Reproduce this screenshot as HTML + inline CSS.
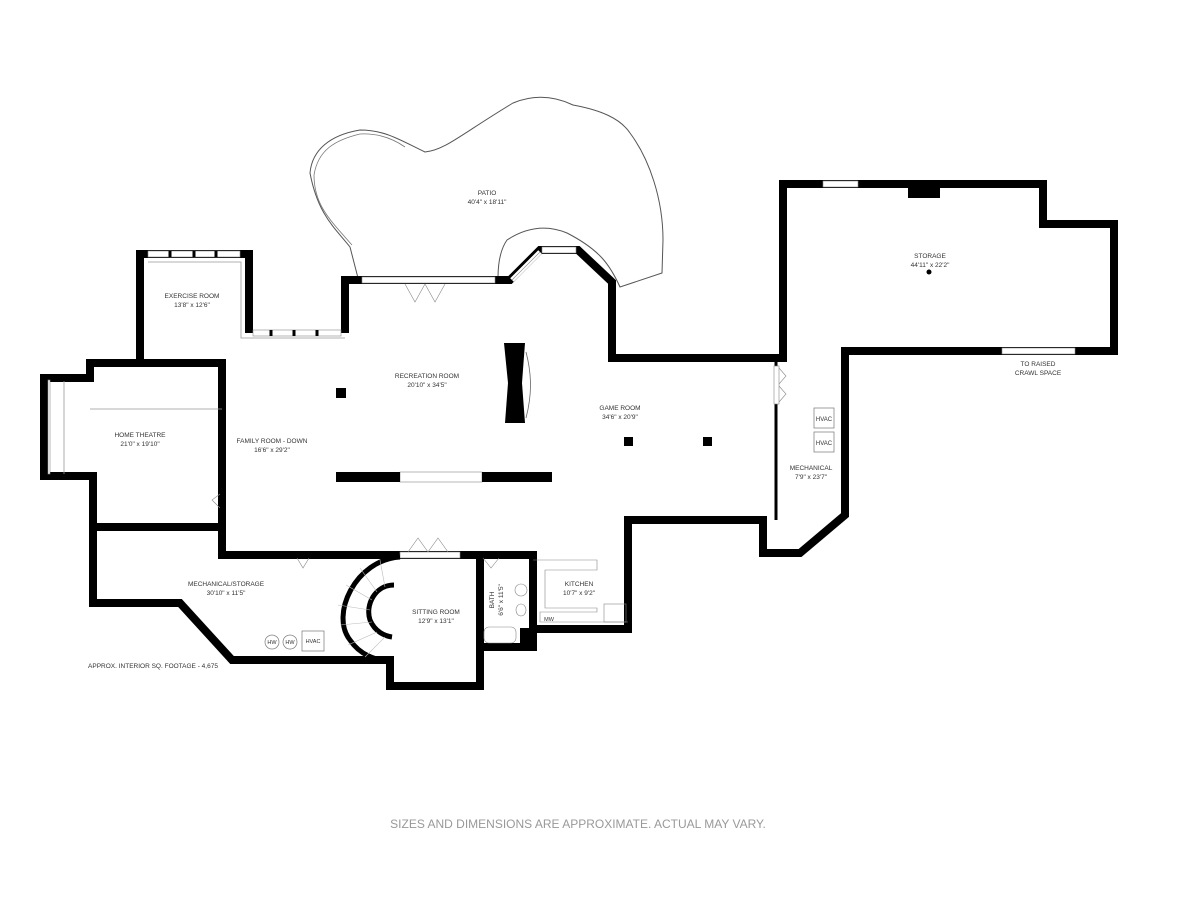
<!DOCTYPE html>
<html><head><meta charset="utf-8"><style>
html,body{margin:0;padding:0;background:#fff;width:1200px;height:900px;overflow:hidden}
svg{display:block}
text{font-family:"Liberation Sans",sans-serif;fill:#333;font-size:6.5px;text-anchor:middle}
</style></head><body>
<svg width="1200" height="900" viewBox="0 0 1200 900" xmlns="http://www.w3.org/2000/svg">
<!-- patio -->
<path d="M358,278 L350,247 C335,228 318,215 310,173 C312,150 330,135 360,130 C385,130 400,140 425,152 C445,150 460,135 513,103 C530,96 550,94 573,105 C600,110 620,118 630,133 C650,160 663,200 663,240 L662,273 L620,287 C610,265 600,250 567,233 C550,226 530,225 507,240 C500,250 498,265 498,278" fill="none" stroke="#555" stroke-width="1"/>
<path d="M352,245 C330,220 314,205 314,175 C318,150 335,140 360,134 C380,133 395,140 405,147" fill="none" stroke="#777" stroke-width="0.8"/>

<g fill="none" stroke="#000" stroke-width="8" stroke-linejoin="miter">
<polyline points="140,362 140,254 249,254 249,333"/>
<polyline points="345,333 345,280 510,280 540,250 578,250 612,282 612,358 783,358 783,184 1043,184 1043,224 1114,224 1114,351 845,351 845,515 800,553 763,553 763,520 628,520 628,629 533,629 533,647 480,647 480,686 390,686 390,660 232,660 180,603 93,603 93,527"/>
<polyline points="93,527 93,476 44,476 44,378 90,378 90,363 140,363"/>
<polyline points="140,363 222,363 222,555 533,555 533,629"/>
<polyline points="93,527 222,527"/>
<polyline points="480,555 480,647"/>
</g>
<line x1="776" y1="358" x2="776" y2="520" stroke="#000" stroke-width="3"/>
<rect x="774" y="366" width="5" height="38" fill="#fff" stroke="#888" stroke-width="0.6"/>
<path d="M779,368 l7,8 l-7,8 M779,386 l7,8 l-7,8" fill="none" stroke="#888" stroke-width="0.6"/>
<path d="M148,262 L241,262 L241,338 L345,338" fill="none" stroke="#999" stroke-width="0.8"/>
<g fill="#fff" stroke="#888" stroke-width="0.6">
<rect x="148" y="251" width="92" height="6"/>
<rect x="253" y="330" width="88" height="6"/>
<rect x="362" y="277" width="133" height="6"/>
<rect x="542" y="247" width="34" height="6"/>
<rect x="823" y="181" width="35" height="6"/>
<rect x="1002" y="348" width="73" height="6"/>
<rect x="400" y="552" width="60" height="6"/>
<rect x="400" y="472" width="82" height="10"/>
<rect x="48" y="380" width="2" height="94"/>
</g>
<g stroke="#000" stroke-width="3">
<line x1="170" y1="251" x2="170" y2="257"/><line x1="194" y1="251" x2="194" y2="257"/><line x1="216" y1="251" x2="216" y2="257"/>
<line x1="271" y1="330" x2="271" y2="336"/><line x1="294" y1="330" x2="294" y2="336"/><line x1="317" y1="330" x2="317" y2="336"/>
</g>
<path d="M512,280 L540,252" stroke="#fff" stroke-width="5"/>
<path d="M512,280 L540,252" stroke="#888" stroke-width="0.6"/>
<path d="M405,284 l10,18 l10,-18 M425,284 l10,18 l10,-18" fill="none" stroke="#888" stroke-width="0.6"/>
<path d="M408,552 l10,-14 l10,14 M428,552 l10,-14 l10,14" fill="none" stroke="#888" stroke-width="0.6"/>
<path d="M297,558 l6,10 l6,-10" fill="none" stroke="#888" stroke-width="0.6"/>
<path d="M220,494 l-8,6 l8,8" fill="none" stroke="#888" stroke-width="0.6"/>
<path d="M90,409 L222,409 M64,381 L64,474" fill="none" stroke="#999" stroke-width="0.8"/>
<rect x="336" y="388" width="10" height="10" fill="#000"/>
<rect x="624" y="437" width="9" height="9" fill="#000"/>
<rect x="703" y="437" width="9" height="9" fill="#000"/>
<path d="M504,343 L525,343 L522,383 L525,423 L505,423 L508,383 Z" fill="#000"/>
<path d="M526,352 C532,375 532,395 526,418" fill="none" stroke="#666" stroke-width="0.8"/>
<rect x="336" y="472" width="64" height="10" fill="#000"/>
<rect x="482" y="472" width="70" height="10" fill="#000"/>
<rect x="908" y="184" width="32" height="14" fill="#000"/>
<circle cx="929" cy="272" r="2.5" fill="#000"/>
<path d="M400,557 C355,560 330,615 350,640 C360,655 375,660 392,662" fill="none" stroke="#000" stroke-width="5"/>
<path d="M394,585 C375,585 365,605 370,620 C375,632 385,636 392,637" fill="none" stroke="#000" stroke-width="5"/>
<g stroke="#bbb" stroke-width="0.6">
<line x1="380" y1="560" x2="385" y2="587"/><line x1="360" y1="568" x2="377" y2="592"/><line x1="346" y1="585" x2="372" y2="600"/><line x1="338" y1="605" x2="370" y2="610"/><line x1="340" y1="625" x2="372" y2="622"/><line x1="348" y1="645" x2="377" y2="632"/><line x1="365" y1="657" x2="385" y2="637"/>
</g>
<g fill="none" stroke="#888" stroke-width="0.6">
<rect x="484" y="627" width="32" height="16" rx="5"/>
<circle cx="521" cy="590" r="6"/>
<ellipse cx="521" cy="610" rx="5" ry="6"/>
<path d="M533,560 L597,560 L597,570 L545,570 L545,608 L597,608 L597,612 L540,612 L540,622 L628,622"/>
<rect x="604" y="604" width="22" height="18"/>
<path d="M483,558 l8,10 l8,-10"/>
</g>
<rect x="520" y="628" width="17" height="19" fill="#000"/>
<g fill="#fff" stroke="#777" stroke-width="0.7">
<rect x="814" y="408" width="20" height="20"/>
<rect x="814" y="432" width="20" height="20"/>
<circle cx="272" cy="642" r="7"/><circle cx="290" cy="642" r="7"/>
<rect x="302" y="631" width="22" height="20"/>
</g>
<text x="824" y="421" style="font-size:6px">HVAC</text>
<text x="824" y="445" style="font-size:6px">HVAC</text>
<text x="272" y="644" style="font-size:5.5px">HW</text>
<text x="290" y="644" style="font-size:5.5px">HW</text>
<text x="313" y="643" style="font-size:5.5px">HVAC</text>
<text x="549" y="621" style="font-size:5.5px">MW</text>
<text x="487" y="195">PATIO</text><text x="487" y="204">40'4" x 18'11"</text>
<text x="192" y="298">EXERCISE ROOM</text><text x="192" y="307">13'8" x 12'6"</text>
<text x="427" y="378">RECREATION ROOM</text><text x="427" y="387">20'10" x 34'5"</text>
<text x="930" y="258">STORAGE</text><text x="930" y="267">44'11" x 22'2"</text>
<text x="1038" y="366">TO RAISED</text><text x="1038" y="375">CRAWL SPACE</text>
<text x="620" y="410">GAME ROOM</text><text x="620" y="419">34'6" x 20'9"</text>
<text x="140" y="437">HOME THEATRE</text><text x="140" y="446">21'0" x 19'10"</text>
<text x="272" y="443">FAMILY ROOM - DOWN</text><text x="272" y="452">16'6" x 29'2"</text>
<text x="811" y="470">MECHANICAL</text><text x="811" y="479">7'9" x 23'7"</text>
<text x="226" y="586">MECHANICAL/STORAGE</text><text x="226" y="595">30'10" x 11'5"</text>
<text x="436" y="614">SITTING ROOM</text><text x="436" y="623">12'9" x 13'1"</text>
<text x="579" y="586">KITCHEN</text><text x="579" y="595">10'7" x 9'2"</text>
<text transform="translate(494,600) rotate(-90)">BATH</text>
<text transform="translate(503,600) rotate(-90)">6'6" x 11'5"</text>
<text x="153" y="668">APPROX. INTERIOR SQ. FOOTAGE - 4,675</text>
<text x="578" y="828" style="font-size:12px;fill:#999">SIZES AND DIMENSIONS ARE APPROXIMATE. ACTUAL MAY VARY.</text>
</svg>
</body></html>
